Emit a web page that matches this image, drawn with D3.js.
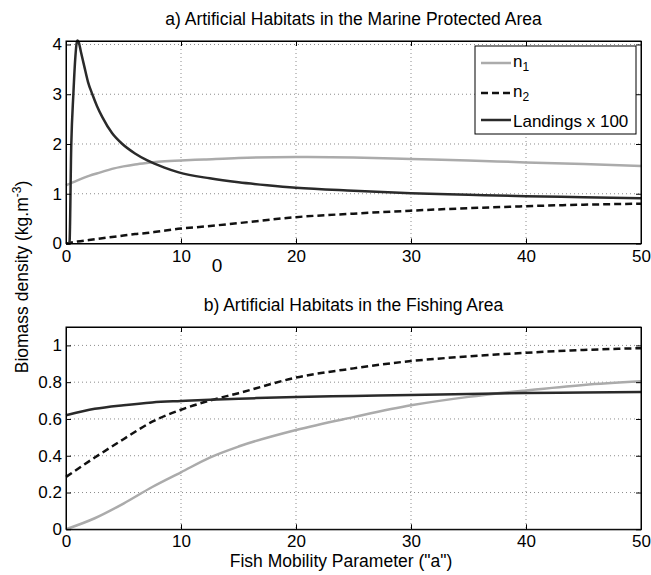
<!DOCTYPE html>
<html>
<head>
<meta charset="utf-8">
<script src="https://cdn.jsdelivr.net/npm/d3@7"></script>
<style>
  body { margin: 0; background: #fff; }
  svg { display: block; font-family: "Liberation Sans", Arial, sans-serif; }
  .grid line { stroke: #8c8c8c; stroke-width: 1; stroke-dasharray: 1,3; }
  .axis path, .axis line { stroke: #000; }
  .axis text { font-size: 17px; fill: #000; font-family: "Liberation Sans", Arial, sans-serif; }
</style>
</head>
<body>
<svg id="chart" width="651" height="575"></svg>
<script>
// x ticks shared by both panels
let xTicks = [0, 10, 20, 30, 40, 50]

// panel a) Marine Protected Area
let mpaTitle = "a) Artificial Habitats in the Marine Protected Area"
let mpaYTicks = [0, 1, 2, 3, 4]
let mpaX  = [0, 1, 2, 3, 4, 5, 6, 7, 8, 10, 12, 15, 20, 25, 30, 35, 40, 45, 50]
let mpaN1 = [1.17, 1.27, 1.36, 1.43, 1.5, 1.55, 1.59, 1.62, 1.645, 1.67, 1.69, 1.72, 1.74, 1.73, 1.70, 1.67, 1.63, 1.60, 1.56]
let mpaN2 = [0.0, 0.04, 0.07, 0.10, 0.13, 0.16, 0.19, 0.21, 0.24, 0.30, 0.34, 0.41, 0.53, 0.60, 0.66, 0.71, 0.75, 0.78, 0.80]
let mpaLandX = [0, 0.3, 0.46, 0.64, 0.8, 0.98, 1.1, 1.3, 1.6, 1.91, 2.29, 2.7, 3.16, 4, 4.9, 6, 7.07, 8.5, 9.8, 12.5, 15, 17.5, 20, 25, 30, 35, 40, 45, 50]
let mpaLand  = [0, 0, 2, 3, 3.7, 4.08, 4.05, 3.85, 3.55, 3.25, 3.0, 2.76, 2.54, 2.22, 2.0, 1.81, 1.67, 1.53, 1.43, 1.31, 1.23, 1.17, 1.12, 1.06, 1.01, 0.98, 0.95, 0.93, 0.91]

// panel b) Fishing Area
let faTitle = "b) Artificial Habitats in the Fishing Area"
let faYTicks = [0, 0.2, 0.4, 0.6, 0.8, 1]
let faX    = [0, 2.5, 5, 7.5, 10, 12.5, 15, 20, 25, 30, 35, 40, 45, 50]
let faN1   = [0, 0.06, 0.14, 0.23, 0.31, 0.39, 0.45, 0.54, 0.61, 0.674, 0.72, 0.755, 0.785, 0.805]
let faN2   = [0.285, 0.39, 0.49, 0.585, 0.65, 0.70, 0.74, 0.825, 0.875, 0.915, 0.94, 0.96, 0.975, 0.985]
let faLand = [0.62, 0.655, 0.675, 0.69, 0.698, 0.705, 0.71, 0.72, 0.725, 0.73, 0.736, 0.741, 0.744, 0.747]

let legendNames = ["n", "n", "Landings x 100"]
let legendSubs = ["1", "2", ""]

let xLabel = 'Fish Mobility Parameter ("a")'

let svg = d3.select("#chart")
svg.append("rect").attr("width", 651).attr("height", 575).attr("fill", "#fff")

let left = 66, right = 641
let xScale = d3.scaleLinear().domain([0, 50]).range([left, right])

let styles = [
    {stroke: "#ababab", dash: null},
    {stroke: "#111", dash: "7,4"},
    {stroke: "#2a2a2a", dash: null}
]

function panel(top, bottom, yMax, yTicks, title, series) {
    let yScale = d3.scaleLinear().domain([0, yMax]).range([bottom, top])
    let g = svg.append("g")

    // grid
    let grid = g.append("g").attr("class", "grid")
    grid.selectAll(".gx").data(xTicks.slice(1, -1)).enter().append("line")
        .attr("x1", d => xScale(d)).attr("x2", d => xScale(d))
        .attr("y1", top).attr("y2", bottom)
    grid.selectAll(".gy").data(yTicks.slice(1)).enter().append("line")
        .attr("x1", left).attr("x2", right)
        .attr("y1", d => yScale(d)).attr("y2", d => yScale(d))

    // lines
    series.forEach(function (s, i) {
        let line = d3.line()
            .x((d, j) => xScale(s.x[j]))
            .y(d => yScale(d))
            .curve(d3.curveMonotoneX)
        g.append("path").datum(s.y)
            .attr("d", line)
            .attr("fill", "none")
            .attr("stroke", styles[i].stroke)
            .attr("stroke-width", 2.5)
            .attr("stroke-dasharray", styles[i].dash)
            .attr("stroke-linejoin", "round")
    })

    // axes, ticks inward on all 4 sides
    let fmt = d => String(d)
    g.append("g").attr("class", "axis")
        .attr("transform", `translate(0,${bottom})`)
        .call(d3.axisBottom(xScale).tickValues(xTicks).tickFormat(fmt).tickSizeInner(-5).tickSizeOuter(0).tickPadding(6))
    g.append("g").attr("class", "axis")
        .attr("transform", `translate(0,${top})`)
        .call(d3.axisTop(xScale).tickValues(xTicks).tickFormat("").tickSizeInner(-5).tickSizeOuter(0))
    g.append("g").attr("class", "axis")
        .attr("transform", `translate(${left},0)`)
        .call(d3.axisLeft(yScale).tickValues(yTicks).tickFormat(fmt).tickSizeInner(-5).tickSizeOuter(0).tickPadding(4))
    g.append("g").attr("class", "axis")
        .attr("transform", `translate(${right},0)`)
        .call(d3.axisRight(yScale).tickValues(yTicks).tickFormat("").tickSizeInner(-5).tickSizeOuter(0))
    g.append("rect")
        .attr("x", left).attr("y", top)
        .attr("width", right - left).attr("height", bottom - top)
        .attr("fill", "none").attr("stroke", "#000").attr("stroke-width", 1)

    // title
    g.append("text")
        .attr("x", (left + right) / 2).attr("y", top - 16)
        .attr("text-anchor", "middle")
        .attr("font-size", "17.5px")
        .text(title)
    return yScale
}

panel(41, 243.5, 4.07, mpaYTicks, mpaTitle, [
    {x: mpaX, y: mpaN1},
    {x: mpaX, y: mpaN2},
    {x: mpaLandX, y: mpaLand}
])
panel(327, 529.3, 1.1, faYTicks, faTitle, [
    {x: faX, y: faN1},
    {x: faX, y: faN2},
    {x: faX, y: faLand}
])

// legend (panel a)
let lg = svg.append("g").attr("transform", "translate(475,46)")
lg.append("rect").attr("width", 161).attr("height", 88)
    .attr("fill", "#fff").attr("stroke", "#000").attr("stroke-width", 1)
let legendRows = [17, 47, 74]
legendNames.forEach(function (d, i) {
    let row = lg.append("g").attr("transform", `translate(0,${legendRows[i]})`)
    row.append("line").attr("x1", 6).attr("x2", 36)
        .attr("stroke", styles[i].stroke).attr("stroke-width", 2.5)
        .attr("stroke-dasharray", styles[i].dash)
    let t = row.append("text").attr("x", 38).attr("y", i < 2 ? 4 : 7)
        .attr("font-size", "17px").text(d)
    if (legendSubs[i]) {
        t.append("tspan").attr("dy", 4).attr("font-size", "12px").text(legendSubs[i])
    }
})

// stray label found in the original figure
svg.append("text").attr("x", 217).attr("y", 272)
    .attr("text-anchor", "middle").attr("font-size", "19px").text("0")

// x label
svg.append("text").attr("x", 341).attr("y", 567)
    .attr("text-anchor", "middle").attr("font-size", "17.5px").text(xLabel)

// y label
let yl = svg.append("text")
    .attr("transform", "translate(28,277) rotate(-90)")
    .attr("text-anchor", "middle").attr("font-size", "17.5px")
yl.append("tspan").text("Biomass density (kg.m")
yl.append("tspan").attr("dy", -7).attr("font-size", "12px").text("-3")
yl.append("tspan").attr("dy", 7).text(")")
</script>
</body>
</html>
